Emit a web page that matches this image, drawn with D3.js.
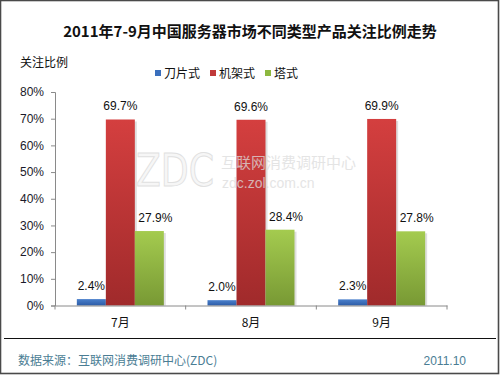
<!DOCTYPE html>
<html><head><meta charset="utf-8">
<script src="https://cdn.jsdelivr.net/npm/d3@7"></script>
<style>
html,body{margin:0;padding:0;background:#fff;}
svg{display:block;}
text{font-family:"Liberation Sans",Arial,"Noto Sans CJK SC",sans-serif;}
</style></head>
<body>
<svg id="chart" width="500" height="375"></svg>
<script>
const title = "2011年7-9月中国服务器市场不同类型产品关注比例走势";
const yTitle = "关注比例";
const categories = ["7月", "8月", "9月"];
const seriesNames = ["刀片式", "机架式", "塔式"];
const blade = [2.4, 2.0, 2.3];
const rack = [69.7, 69.6, 69.9];
const tower = [27.9, 28.4, 27.8];
const yTicks = [0, 10, 20, 30, 40, 50, 60, 70, 80];
const source = "数据来源：互联网消费调研中心(ZDC)";
const dateLabel = "2011.10";

const seriesValues = [blade, rack, tower];
const colors = [
  {top:"#4a80cc", bot:"#2d5ca6", key:"#3a6fbd"},
  {top:"#d43f3f", bot:"#a02a2b", key:"#c0393a"},
  {top:"#a4cb4f", bot:"#789934", key:"#8db83f"}
];

const svg = d3.select("#chart");
const defs = svg.append("defs");
colors.forEach((c,i)=>{
  const g = defs.append("linearGradient").attr("id","g"+i)
    .attr("x1",0).attr("y1",0).attr("x2",0).attr("y2",1);
  g.append("stop").attr("offset","0%").attr("stop-color",c.top);
  g.append("stop").attr("offset","100%").attr("stop-color",c.bot);
});

// border
svg.append("rect").attr("x",0.5).attr("y",0.5).attr("width",498).attr("height",373)
  .attr("fill","#fff").attr("stroke","#4a4a4a").attr("stroke-width",1.6);

// title
svg.append("text").attr("x",250).attr("y",37).attr("text-anchor","middle")
  .style("font-family",'"Noto Sans CJK SC",sans-serif')
  .attr("font-size",15).attr("font-weight","bold").attr("fill","#111").text(title);

svg.append("text").attr("x",20).attr("y",67)
  .style("font-family",'"Noto Sans CJK SC",sans-serif')
  .attr("font-size",12).attr("fill","#111").text(yTitle);

// legend
const legendX = [155, 210, 265];
seriesNames.forEach((n,i)=>{
  svg.append("rect").attr("x",legendX[i]).attr("y",70).attr("width",6).attr("height",6)
    .attr("fill",colors[i].key);
  svg.append("text").attr("x",legendX[i]+9).attr("y",77.5)
    .style("font-family",'"Noto Sans CJK SC",sans-serif')
    .attr("font-size",12).attr("fill","#111").text(n);
});

const plot = {left:55, right:447, top:92, bottom:305.5};
const y = d3.scaleLinear().domain([0,80]).range([plot.bottom, plot.top]);
const x0 = d3.scaleBand().domain(categories).range([plot.left, plot.right]).paddingInner(0).paddingOuter(0);
const x1 = d3.scaleBand().domain(d3.range(seriesNames.length)).range([0, x0.bandwidth()]).paddingInner(0).paddingOuter(0.753);

// y axis
const yAxis = d3.axisLeft(y).tickValues(yTicks).tickFormat(d=>d+"%").tickSize(4).tickPadding(7);
const gy = svg.append("g").attr("transform",`translate(${plot.left},0)`).call(yAxis);
gy.select(".domain").attr("stroke","#8a8a8a");
gy.selectAll(".tick line").attr("stroke","#8a8a8a");
gy.selectAll(".tick text").attr("font-size",12).attr("fill","#1a1a2a")
  .style("font-family",'"Liberation Sans",Arial,sans-serif');

// bars
const groups = svg.append("g").selectAll("g").data(categories).join("g")
  .attr("transform",d=>`translate(${x0(d)},0)`);
groups.each(function(cat,ci){
  const g = d3.select(this);
  seriesValues.forEach((vals,si)=>{
    const v = vals[ci];
    g.append("rect").attr("x",x1(si)+2).attr("y",y(v)+2)
      .attr("width",x1.bandwidth()).attr("height",plot.bottom-y(v)-2)
      .attr("fill","#c8c8c8").attr("opacity",0.6);
  });
  seriesValues.forEach((vals,si)=>{
    const v = vals[ci];
    g.append("rect").attr("x",x1(si)).attr("y",y(v))
      .attr("width",x1.bandwidth()).attr("height",plot.bottom-y(v))
      .attr("fill",`url(#g${si})`);
    g.append("text").attr("x",x1(si)+x1.bandwidth()/2+(si===2?6:0)).attr("y",y(v)-9)
      .attr("text-anchor","middle").attr("font-size",12).attr("fill","#111")
      .text(v.toFixed(1)+"%");
  });
});

// x axis
const xAxis = d3.axisBottom(x0).tickSize(0).tickPadding(11);
const gx = svg.append("g").attr("transform",`translate(0,${plot.bottom})`).call(xAxis);
gx.select(".domain").attr("stroke","#8a8a8a");
gx.selectAll(".tick text").attr("font-size",12).attr("fill","#111")
  .style("font-family",'"Noto Sans CJK SC",sans-serif').attr("dy","0.9em");
const bounds = categories.map(c=>x0(c)).concat([plot.right]);
gx.selectAll(".bnd").data(bounds).join("line").attr("class","bnd")
  .attr("x1",d=>d).attr("x2",d=>d).attr("y1",0).attr("y2",4).attr("stroke","#8a8a8a");

// watermark (overlay)
const wm = svg.append("g").attr("opacity",0.75).attr("pointer-events","none");
wm.append("text").attr("x",136).attr("y",186).attr("font-size",44)
  .style("font-family",'"DejaVu Sans",sans-serif').attr("font-weight","normal")
  .attr("textLength",78).attr("lengthAdjust","spacingAndGlyphs")
  .attr("fill","#f4f4f4").attr("stroke","#d6d6d6").attr("stroke-width",1).text("ZDC");
wm.append("text").attr("x",221).attr("y",168).attr("font-size",15)
  .style("font-family",'"Noto Sans CJK SC",sans-serif')
  .attr("fill","#dcdcdc").text("互联网消费调研中心");
wm.append("text").attr("x",222).attr("y",188).attr("font-size",14)
  .attr("fill","#dcdcdc").text("zdc.zol.com.cn");

// footer
svg.append("line").attr("x1",4).attr("x2",496).attr("y1",338.5).attr("y2",338.5)
  .attr("stroke","#111").attr("stroke-width",1);
svg.append("text").attr("x",18).attr("y",365).attr("font-size",12)
  .style("font-family",'"Noto Sans CJK SC",sans-serif')
  .attr("fill","#4a7d94").text(source);
svg.append("text").attr("x",466).attr("y",365).attr("font-size",12).attr("text-anchor","end")
  .attr("fill","#4a7d94").text(dateLabel);
</script>
</body></html>
